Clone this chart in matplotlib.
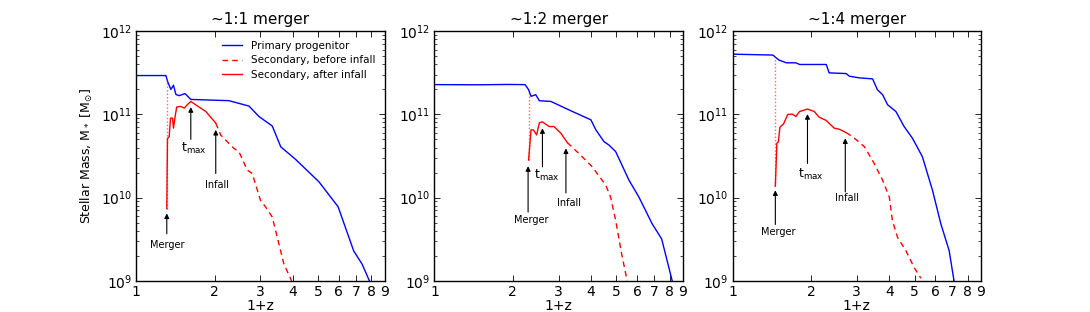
import numpy as np
import matplotlib
matplotlib.use("Agg")
import matplotlib.pyplot as plt
from matplotlib.ticker import FixedLocator, FixedFormatter, NullLocator, LogLocator

plt.rcParams['font.family'] = ['DejaVu Sans']
plt.rcParams['mathtext.fontset'] = 'dejavusans'

titles = ["~1:1 merger", "~1:2 merger", "~1:4 merger"]
xticks = [1, 2, 3, 4, 5, 6, 7, 8, 9]
xticklabels = ["1", "2", "3", "4", "5", "6", "7", "8", "9"]

# ---- Panel 1 (~1:1) ----
p1_prim_x = [1.0, 1.30, 1.318, 1.358, 1.39, 1.42, 1.46, 1.54, 1.62, 2.27, 2.71, 2.96, 3.33, 3.59, 4.09, 5.03, 5.96, 6.84, 7.37, 7.86]
p1_prim_logm = [11.467, 11.467, 11.40, 11.30, 11.35, 11.24, 11.225, 11.25, 11.18, 11.165, 11.10, 10.975, 10.86, 10.61, 10.46, 10.19, 9.89, 9.36, 9.20, 9.0]
p1_after_x = [1.31, 1.318, 1.338, 1.354, 1.378, 1.39, 1.41, 1.43, 1.48, 1.53, 1.57, 1.62, 1.69, 1.85, 2.02]
p1_after_logm = [9.867, 10.71, 10.733, 10.955, 10.955, 10.835, 10.975, 11.088, 11.096, 11.076, 11.116, 11.156, 11.116, 11.035, 10.895]
p1_before_x = [2.02, 2.11, 2.37, 2.48, 2.67, 2.79, 3.0, 3.14, 3.33, 3.48, 3.69, 3.95]
p1_before_logm = [10.895, 10.753, 10.592, 10.551, 10.33, 10.29, 9.967, 9.887, 9.766, 9.524, 9.202, 9.0]

# ---- Panel 2 (~1:2) ----
p2_prim_x = [1.0, 1.5, 1.9, 2.23, 2.30, 2.35, 2.45, 2.53, 2.80, 3.39, 3.99, 4.17, 4.48, 4.68, 4.97, 5.59, 6.10, 6.86, 7.46, 8.19]
p2_prim_logm = [11.358, 11.356, 11.360, 11.358, 11.297, 11.217, 11.237, 11.164, 11.156, 11.035, 10.935, 10.814, 10.673, 10.632, 10.552, 10.209, 10.007, 9.685, 9.504, 9.0]
p2_after_x = [2.30, 2.35, 2.40, 2.47, 2.53, 2.60, 2.76, 2.88, 3.06, 3.24]
p2_after_logm = [10.451, 10.814, 10.814, 10.753, 10.90, 10.91, 10.854, 10.854, 10.774, 10.661]
p2_before_x = [3.24, 3.59, 4.04, 4.55, 4.75, 4.97, 5.24, 5.50]
p2_before_logm = [10.661, 10.53, 10.37, 10.15, 10.007, 9.725, 9.32, 9.0]

# ---- Panel 3 (~1:4) ----
p3_prim_x = [1.0, 1.43, 1.47, 1.51, 1.61, 1.75, 1.81, 1.97, 2.29, 2.35, 2.73, 2.81, 3.07, 3.45, 3.60, 3.77, 3.94, 4.24, 4.56, 4.91, 5.36, 5.86, 6.31, 6.79, 7.09]
p3_prim_logm = [11.724, 11.713, 11.680, 11.652, 11.620, 11.620, 11.600, 11.600, 11.600, 11.499, 11.491, 11.459, 11.439, 11.427, 11.297, 11.237, 11.116, 11.035, 10.854, 10.713, 10.491, 10.088, 9.685, 9.363, 9.0]
p3_after_x = [1.46, 1.48, 1.50, 1.52, 1.57, 1.63, 1.70, 1.75, 1.81, 1.94, 2.06, 2.15, 2.29, 2.46, 2.57, 2.73]
p3_after_logm = [10.137, 10.653, 10.673, 10.846, 10.886, 11.0, 11.003, 10.975, 11.035, 11.064, 11.035, 10.967, 10.927, 10.834, 10.822, 10.781]
p3_before_x = [2.73, 2.89, 3.21, 3.50, 3.77, 4.00, 4.11, 4.30, 4.63, 4.98, 5.29]
p3_before_logm = [10.781, 10.733, 10.612, 10.411, 10.209, 10.007, 9.726, 9.524, 9.363, 9.161, 9.03]

# annotation anchors: (arrow_x, tip_logm, tail_logm, text_x, text_logm)
p1_merger = (1.31, 9.81, 9.565, 1.31, 9.435)
p1_tmax = (1.62, 11.088, 10.70, 1.67, 10.596)
p1_infall = (2.02, 10.814, 10.29, 2.04, 10.149)
p2_merger = (2.29, 10.378, 9.826, 2.35, 9.734)
p2_tmax = (2.60, 10.834, 10.37, 2.70, 10.27)
p2_infall = (3.20, 10.592, 10.056, 3.29, 9.935)
p3_merger = (1.46, 10.088, 9.677, 1.50, 9.584)
p3_tmax = (1.94, 11.004, 10.411, 2.00, 10.282)
p3_infall = (2.71, 10.713, 10.068, 2.74, 10.0)

panels = [
    (p1_prim_x, p1_prim_logm, p1_after_x, p1_after_logm, p1_before_x, p1_before_logm, p1_merger, p1_tmax, p1_infall),
    (p2_prim_x, p2_prim_logm, p2_after_x, p2_after_logm, p2_before_x, p2_before_logm, p2_merger, p2_tmax, p2_infall),
    (p3_prim_x, p3_prim_logm, p3_after_x, p3_after_logm, p3_before_x, p3_before_logm, p3_merger, p3_tmax, p3_infall),
]

fig, axes = plt.subplots(1, 3, figsize=(10.9, 3.12), dpi=100)
fig.subplots_adjust(left=0.125, right=0.9, bottom=0.1, top=0.9, wspace=0.2)

arrow_kw = dict(arrowstyle='-|>', color='k', lw=0.8, mutation_scale=7, shrinkA=0, shrinkB=0)

for i, (ax, pan) in enumerate(zip(axes, panels)):
    px, pm, ax_, am, bx, bm, mer, tmx, inf = pan
    ax.plot(px, 10 ** np.array(pm), color='b', lw=1.0, label='Primary progenitor')
    ax.plot(bx, 10 ** np.array(bm), color='r', lw=1.0, ls=(0, (4, 3)), label='Secondary, before infall')
    ax.plot(ax_, 10 ** np.array(am), color='r', lw=1.0, label='Secondary, after infall')
    # dotted connection at merger
    top = np.interp(np.log(ax_[0]), np.log(px), pm)
    ax.plot([ax_[0], ax_[0]], [10 ** am[0], 10 ** top], color='r', lw=1.0, ls=(0, (1, 1.5)), alpha=0.6)

    for (xa, tip, tail, lx, lm), txt, fs in [(mer, 'Merger', 7), (tmx, r't$_{\rm max}$', 9), (inf, 'Infall', 7)]:
        ax.annotate('', xy=(xa, 10 ** tip), xytext=(xa, 10 ** tail), arrowprops=arrow_kw)
        ax.text(lx, 10 ** lm, txt, ha='center', va='center', fontsize=fs)

    ax.set_xscale('log')
    ax.set_yscale('log')
    ax.set_xlim(1, 9)
    ax.set_ylim(1e9, 1e12)
    ax.xaxis.set_major_locator(FixedLocator(xticks))
    ax.xaxis.set_major_formatter(FixedFormatter(xticklabels))
    ax.xaxis.set_minor_locator(NullLocator())
    ax.yaxis.set_major_locator(LogLocator(base=10, numticks=10))
    ax.yaxis.set_minor_locator(LogLocator(base=10, subs=np.arange(2, 10), numticks=20))
    ax.tick_params(which='both', direction='in', top=True, right=True, labelsize=10, pad=3)
    ax.tick_params(which='major', length=4, width=0.6)
    ax.tick_params(which='minor', length=2, width=0.5)
    ax.set_xlabel('1+z', fontsize=10, labelpad=0)
    ax.set_title(titles[i], fontsize=11, pad=5)
    for s in ax.spines.values():
        s.set_linewidth(1.0)

axes[0].set_ylabel(r'Stellar Mass, M$_*$ [M$_{\odot}$]', fontsize=9)
axes[0].legend(loc='upper right', frameon=False, fontsize=7.5, handlelength=2.0, labelspacing=0.45)

fig.savefig('out.png', dpi=100)
